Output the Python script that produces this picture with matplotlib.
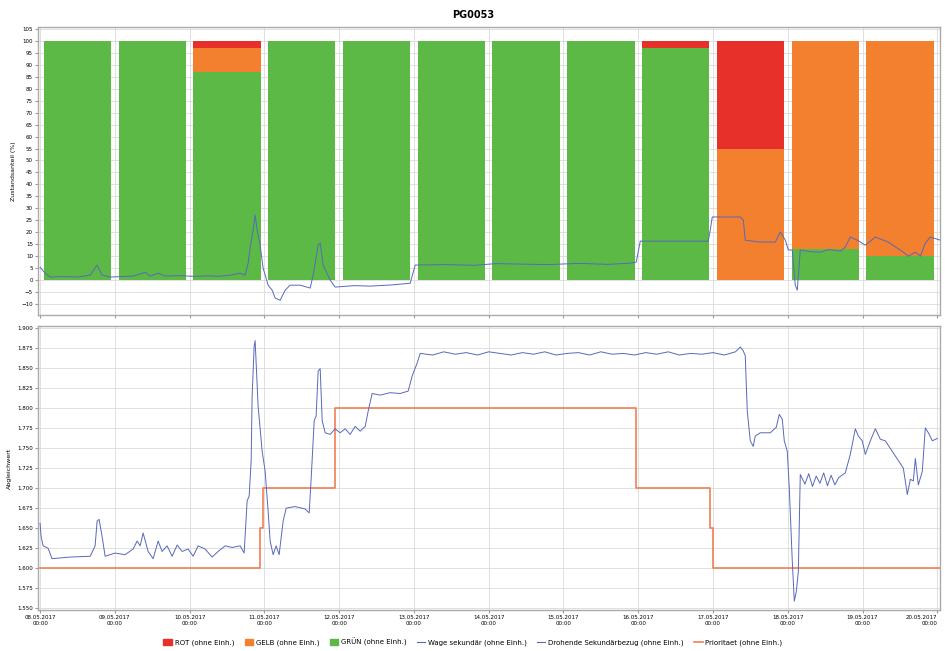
# PG0053 status shares (stacked bars) and gauge values per day
import matplotlib.pyplot as plt
import numpy as np

# days (one bar per day), percent share of each state
days = np.arange(12)
green = [100, 100, 87, 100, 100, 100, 100, 100, 97, 0, 13, 10]
orange = [0, 0, 10, 0, 0, 0, 0, 0, 0, 55, 87, 90]
red = [0, 0, 3, 0, 0, 0, 0, 0, 3, 45, 0, 0]

tick_labels = ["08.05.2017\n00:00", "09.05.2017\n00:00", "10.05.2017\n00:00", "11.05.2017\n00:00",
               "12.05.2017\n00:00", "13.05.2017\n00:00", "14.05.2017\n00:00", "15.05.2017\n00:00",
               "16.05.2017\n00:00", "17.05.2017\n00:00", "18.05.2017\n00:00", "19.05.2017\n00:00",
               "20.05.2017\n00:00"]

# upper line (x in days, value)
top_x = [0.00, 0.067, 0.134, 0.30, 0.508, 0.669, 0.763, 0.829, 0.936, 1.10, 1.25, 1.405, 1.472, 1.579,
         1.672, 1.85, 2.05, 2.25, 2.40, 2.542, 2.676, 2.742, 2.783, 2.809, 2.849, 2.876, 2.903, 2.943,
         2.983, 3.050, 3.104, 3.144, 3.211, 3.278, 3.344, 3.478, 3.612, 3.652, 3.719, 3.746, 3.786,
         3.880, 3.946, 4.20, 4.415, 4.70, 4.950, 5.017, 5.40, 5.80, 6.10, 6.421, 6.80, 7.20, 7.60,
         7.893, 7.973, 8.027, 8.50, 8.936, 8.963, 8.990, 9.365, 9.405, 9.431, 9.60, 9.833, 9.900,
         9.967, 10.007, 10.060, 10.100, 10.127, 10.167, 10.30, 10.435, 10.55, 10.702, 10.769, 10.836,
         10.930, 11.037, 11.171, 11.344, 11.545, 11.612, 11.706, 11.773, 11.839, 11.906, 12.040]
top_y = [5.4, 2.9, 1.3, 1.5, 1.3, 2.1, 6.3, 2.1, 1.3, 1.5, 1.7, 3.3, 1.7, 2.9,
         1.7, 1.9, 1.6, 1.8, 1.6, 2.1, 2.9, 2.1, 7.1, 13.4, 20.9, 27.2, 20.9, 14.6,
         5.0, -2.1, -4.2, -7.5, -8.4, -4.2, -2.1, -2.1, -3.3, 2.1, 14.6, 15.5, 6.3,
         0.0, -2.9, -2.3, -2.5, -2.0, -1.3, 6.3, 6.5, 6.2, 6.9, 6.7, 6.5, 7.0, 6.6,
         7.1, 7.5, 16.3, 16.3, 16.3, 20.9, 26.4, 26.4, 25.1, 16.7, 16.0, 15.9, 20.1,
         16.7, 12.6, 12.6, -2.1, -4.2, 12.6, 11.9, 11.7, 12.8, 12.1, 13.8, 18.0,
         16.7, 14.6, 18.0, 15.9, 11.7, 10.0, 11.7, 10.0, 15.5, 18.0, 16.7]

# lower line (x in days, value)
low_x = [0.0, 0.013, 0.04, 0.107, 0.16, 0.40, 0.67, 0.736, 0.763, 0.789, 0.829, 0.870, 1.003, 1.137,
         1.244, 1.298, 1.338, 1.378, 1.445, 1.512, 1.579, 1.632, 1.699, 1.766, 1.833, 1.900, 1.980,
         2.047, 2.114, 2.207, 2.301, 2.381, 2.475, 2.569, 2.676, 2.729, 2.769, 2.796, 2.823, 2.836,
         2.863, 2.876, 2.890, 2.916, 2.970, 3.010, 3.050, 3.077, 3.117, 3.157, 3.197, 3.251, 3.291,
         3.411, 3.545, 3.599, 3.625, 3.666, 3.692, 3.719, 3.746, 3.773, 3.813, 3.880, 3.946, 4.013,
         4.080, 4.147, 4.214, 4.281, 4.348, 4.388, 4.441, 4.548, 4.682, 4.816, 4.923, 4.977, 5.043,
         5.084, 5.25, 5.40, 5.55, 5.70, 5.85, 6.00, 6.15, 6.30, 6.45, 6.60, 6.75, 6.90, 7.05, 7.20,
         7.35, 7.50, 7.65, 7.80, 7.95, 8.10, 8.25, 8.40, 8.55, 8.70, 8.85, 9.00, 9.15, 9.30, 9.365,
         9.405, 9.431, 9.458, 9.498, 9.538, 9.565, 9.632, 9.766, 9.846, 9.886, 9.926, 9.953, 9.993,
         10.020, 10.060, 10.087, 10.114, 10.141, 10.167, 10.23, 10.28, 10.33, 10.38, 10.43, 10.48,
         10.53, 10.58, 10.63, 10.68, 10.769, 10.836, 10.903, 10.943, 10.996, 11.037, 11.104, 11.171,
         11.237, 11.304, 11.438, 11.545, 11.599, 11.639, 11.679, 11.706, 11.746, 11.799, 11.839,
         11.880, 11.933, 12.000]
low_y = [1.656, 1.640, 1.628, 1.625, 1.612, 1.614, 1.615, 1.628, 1.659, 1.661, 1.640, 1.615, 1.619, 1.617,
         1.624, 1.634, 1.628, 1.644, 1.621, 1.612, 1.634, 1.621, 1.628, 1.615, 1.629, 1.621, 1.624,
         1.615, 1.628, 1.624, 1.614, 1.621, 1.628, 1.626, 1.628, 1.619, 1.684, 1.690, 1.734, 1.815,
         1.877, 1.884, 1.856, 1.802, 1.746, 1.721, 1.671, 1.634, 1.617, 1.628, 1.617, 1.659, 1.675,
         1.677, 1.674, 1.669, 1.711, 1.784, 1.790, 1.846, 1.849, 1.784, 1.769, 1.767, 1.774, 1.769,
         1.774, 1.767, 1.777, 1.771, 1.777, 1.796, 1.818, 1.816, 1.819, 1.818, 1.821, 1.840, 1.856,
         1.868, 1.866, 1.870, 1.867, 1.869, 1.866, 1.870, 1.868, 1.866, 1.869, 1.867, 1.870, 1.866, 1.868,
         1.869, 1.866, 1.870, 1.867, 1.868, 1.866, 1.869, 1.867, 1.870, 1.866, 1.868, 1.867, 1.869, 1.866,
         1.870, 1.876, 1.871, 1.865, 1.796, 1.759, 1.752, 1.765, 1.769, 1.769, 1.776, 1.792, 1.786,
         1.759, 1.746, 1.700, 1.609, 1.559, 1.571, 1.596, 1.717, 1.705, 1.718, 1.702, 1.715, 1.706,
         1.719, 1.703, 1.716, 1.704, 1.713, 1.719, 1.742, 1.774, 1.765, 1.759, 1.742, 1.759, 1.774,
         1.761, 1.759, 1.740, 1.725, 1.692, 1.711, 1.709, 1.737, 1.704, 1.721, 1.775, 1.769, 1.759,
         1.762]

# priority step line
prio_x = [0.0, 2.943, 2.983, 3.946, 7.973, 8.963, 9.0, 12.04]
prio_y = [1.60, 1.65, 1.70, 1.80, 1.70, 1.65, 1.60, 1.60]

c_green = "#5cb946"
c_orange = "#f2802f"
c_red = "#e8302a"
c_blue = "#5868bb"
c_prio = "#f07e55"

fig = plt.figure(figsize=(9.46, 6.51), dpi=100)
fig.suptitle("PG0053", fontsize=7, fontweight="bold", y=0.985)

ax1 = fig.add_axes([0.040, 0.516, 0.954, 0.443])
ax2 = fig.add_axes([0.040, 0.063, 0.954, 0.436], sharex=ax1)

# stacked bars
ax1.bar(days + 0.5, green, width=0.9, color=c_green, zorder=2)
ax1.bar(days + 0.5, orange, width=0.9, bottom=green, color=c_orange, zorder=2)
ax1.bar(days + 0.5, red, width=0.9, bottom=np.array(green) + np.array(orange), color=c_red, zorder=2)
ax1.plot(top_x, top_y, color=c_blue, lw=0.7, zorder=3)
ax1.set_ylim(-14.6, 105.9)
ax1.set_yticks(np.arange(-10, 106, 5))
ax1.set_ylabel("Zustandsanteil (%)", fontsize=4.5)

ax2.plot(low_x, low_y, color=c_blue, lw=0.7, zorder=3)
ax2.plot(prio_x, prio_y, color=c_prio, lw=1.2, drawstyle="steps-post", zorder=2)
ax2.set_ylim(1.548, 1.902)
ax2.set_yticks(np.arange(1.55, 1.901, 0.025))
ax2.yaxis.set_major_formatter(plt.FormatStrFormatter("%.3f"))
ax2.set_ylabel("Abgleichwert", fontsize=4.5)

ax2.set_xlim(-0.03, 12.04)
ax2.set_xticks(np.arange(13))
ax2.set_xticklabels(tick_labels)
plt.setp(ax1.get_xticklabels(), visible=False)
ax2.get_xticklabels()[-1].set_horizontalalignment("right")

for ax in (ax1, ax2):
    ax.grid(True, color="#dadada", lw=0.6, zorder=0)
    ax.set_axisbelow(True)
    ax.tick_params(labelsize=4, length=2, color="#999999", pad=1.5)
    for s in ax.spines.values():
        s.set_color("#aaaaaa")
        s.set_linewidth(1.0)

# legend
handles = [plt.Rectangle((0, 0), 1, 1, color=c_red),
           plt.Rectangle((0, 0), 1, 1, color=c_orange),
           plt.Rectangle((0, 0), 1, 1, color=c_green),
           plt.Line2D([], [], color=c_blue, lw=0.8),
           plt.Line2D([], [], color=c_blue, lw=0.8),
           plt.Line2D([], [], color=c_prio, lw=1.2)]
labels = ["ROT (ohne Einh.)", "GELB (ohne Einh.)", "GRÜN (ohne Einh.)",
          "Wage sekundär (ohne Einh.)", "Drohende Sekundärbezug (ohne Einh.)", "Prioritaet (ohne Einh.)"]
fig.legend(handles, labels, loc="lower center", bbox_to_anchor=(0.5, -0.002), ncol=6, fontsize=5,
           frameon=False, handlelength=1.2, handleheight=0.8, columnspacing=1.5, handletextpad=0.4)

fig.savefig("out.png", dpi=100)
